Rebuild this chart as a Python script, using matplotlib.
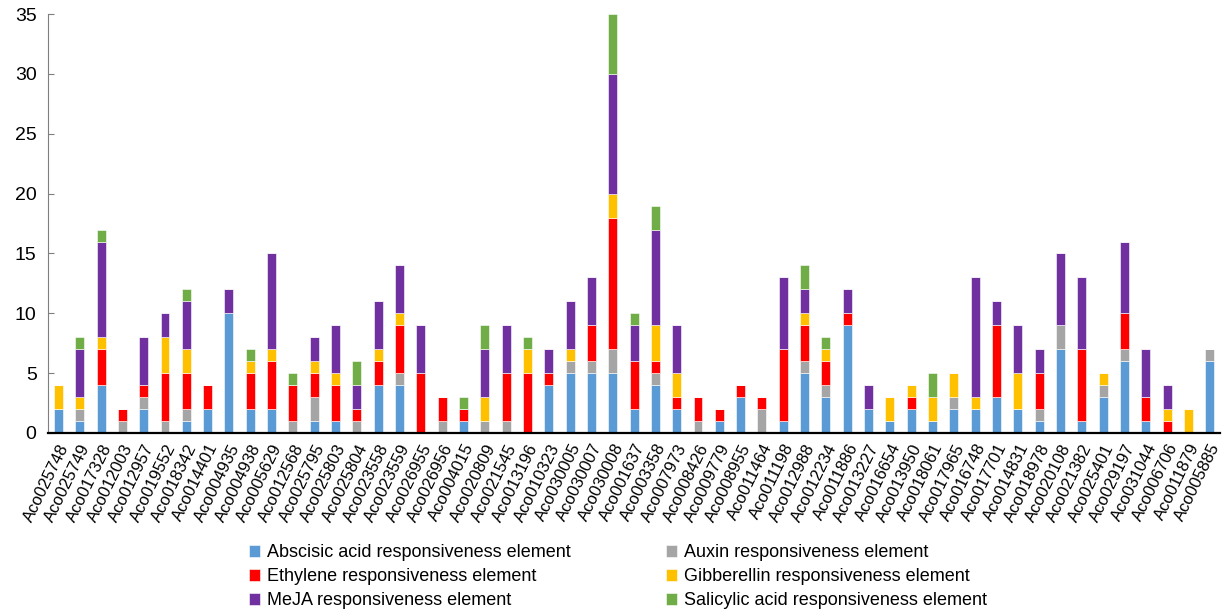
import numpy as np
import matplotlib
matplotlib.use('Agg')
from matplotlib import pyplot as plt

plt.rcParams['font.family'] = ['Liberation Sans', 'DejaVu Sans']

genes = ['Aco025748', 'Aco025749', 'Aco017328', 'Aco012003', 'Aco012957', 'Aco019552',
         'Aco018342', 'Aco014401', 'Aco004935', 'Aco004938', 'Aco005629', 'Aco012568',
         'Aco025795', 'Aco025803', 'Aco025804', 'Aco023558', 'Aco023559', 'Aco026955',
         'Aco026956', 'Aco004015', 'Aco020809', 'Aco021545', 'Aco013196', 'Aco010323',
         'Aco030005', 'Aco030007', 'Aco030008', 'Aco001637', 'Aco003358', 'Aco007973',
         'Aco008426', 'Aco009779', 'Aco008955', 'Aco011464', 'Aco011198', 'Aco012988',
         'Aco012234', 'Aco011886', 'Aco013227', 'Aco016654', 'Aco013950', 'Aco018061',
         'Aco017965', 'Aco016748', 'Aco017701', 'Aco014831', 'Aco018978', 'Aco020108',
         'Aco021382', 'Aco025401', 'Aco029197', 'Aco031044', 'Aco006706', 'Aco011879',
         'Aco005885']

abscisic = [2, 1, 4, 0, 2, 0, 1, 2, 10, 2, 2, 0, 1, 1, 0, 4, 4, 0, 0, 1, 0, 0, 0, 4,
            5, 5, 5, 2, 4, 2, 0, 1, 3, 0, 1, 5, 3, 9, 2, 1, 2, 1, 2, 2, 3, 2, 1, 7,
            1, 3, 6, 1, 0, 0, 6]
auxin = [0, 1, 0, 1, 1, 1, 1, 0, 0, 0, 0, 1, 2, 0, 1, 0, 1, 0, 1, 0, 1, 1, 0, 0,
         1, 1, 2, 0, 1, 0, 1, 0, 0, 2, 0, 1, 1, 0, 0, 0, 0, 0, 1, 0, 0, 0, 1, 2,
         0, 1, 1, 0, 0, 0, 1]
ethylene = [0, 0, 3, 1, 1, 4, 3, 2, 0, 3, 4, 3, 2, 3, 1, 2, 4, 5, 2, 1, 0, 4, 5, 1,
            0, 3, 11, 4, 1, 1, 2, 1, 1, 1, 6, 3, 2, 1, 0, 0, 1, 0, 0, 0, 6, 0, 3, 0,
            6, 0, 3, 2, 1, 0, 0]
gibberellin = [2, 1, 1, 0, 0, 3, 2, 0, 0, 1, 1, 0, 1, 1, 0, 1, 1, 0, 0, 0, 2, 0, 2, 0,
               1, 0, 2, 0, 3, 2, 0, 0, 0, 0, 0, 1, 1, 0, 0, 2, 1, 2, 2, 1, 0, 3, 0, 0,
               0, 1, 0, 0, 1, 2, 0]
meja = [0, 4, 8, 0, 4, 2, 4, 0, 2, 0, 8, 0, 2, 4, 2, 4, 4, 4, 0, 0, 4, 4, 0, 2,
        4, 4, 10, 3, 8, 4, 0, 0, 0, 0, 6, 2, 0, 2, 2, 0, 0, 0, 0, 10, 2, 4, 2, 6,
        6, 0, 6, 4, 2, 0, 0]
salicylic = [0, 1, 1, 0, 0, 0, 1, 0, 0, 1, 0, 1, 0, 0, 2, 0, 0, 0, 0, 1, 2, 0, 1, 0,
             0, 0, 5, 1, 2, 0, 0, 0, 0, 0, 0, 2, 1, 0, 0, 0, 0, 2, 0, 0, 0, 0, 0, 0,
             0, 0, 0, 0, 0, 0, 0]

series = [
    ('Abscisic acid responsiveness element', abscisic, '#5B9BD5'),
    ('Auxin responsiveness element', auxin, '#A5A5A5'),
    ('Ethylene responsiveness element', ethylene, '#FF0000'),
    ('Gibberellin responsiveness element', gibberellin, '#FFC000'),
    ('MeJA responsiveness element', meja, '#7030A0'),
    ('Salicylic acid responsiveness element', salicylic, '#70AD47'),
]

fig = plt.figure(figsize=(12.24, 6.15), dpi=100)
ax = fig.add_axes([0.039, 0.296, 0.958, 0.681])

x = np.arange(len(genes))
bottom = np.zeros(len(genes))
handles = []
for name, vals, color in series:
    vals = np.array(vals, dtype=float)
    b = ax.bar(x, vals, 0.42, bottom=bottom, color=color, label=name,
               edgecolor='white', linewidth=0.4)
    handles.append(b)
    bottom += vals

ax.set_xlim(-0.5, len(genes) - 0.5)
ax.set_ylim(0, 35)
ax.set_yticks(np.arange(0, 36, 5))
ax.tick_params(axis='y', labelsize=14, direction='in', length=4, width=0.8, color='#7f7f7f', pad=8)
ax.set_xticks(x)
ax.set_xticklabels(genes, rotation=64, ha='right', rotation_mode='anchor', fontsize=12)
ax.tick_params(axis='x', length=0, pad=6)

for s in ['top', 'right']:
    ax.spines[s].set_visible(False)
ax.spines['left'].set_color('#7f7f7f')
ax.spines['left'].set_linewidth(0.8)
ax.spines['bottom'].set_linewidth(1.6)

# legend reads row by row: reorder so column-major filling gives that
order = [0, 2, 4, 1, 3, 5]
leg = fig.legend(handles=[handles[i] for i in order], loc='lower left',
                 bbox_to_anchor=(0.19, -0.017),
                 ncol=2, frameon=False, fontsize=13, handlelength=0.6, handleheight=0.6,
                 columnspacing=5.3, labelspacing=0.38, handletextpad=0.4)

fig.savefig('out.png', dpi=100)
